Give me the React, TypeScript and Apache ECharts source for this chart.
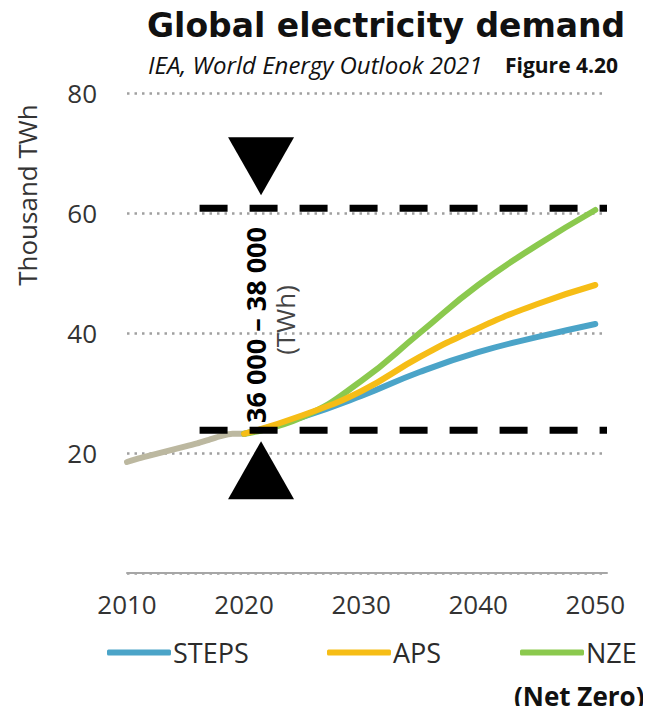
import React, { useEffect, useRef } from "react";
import * as echarts from "echarts";

// Historical electricity demand (thousand TWh)
const historyYears = [2010, 2011, 2012, 2013, 2014, 2015, 2016, 2017, 2018, 2019, 2020];
const historyValues = [18.5, 19.1, 19.6, 20.1, 20.6, 21.1, 21.6, 22.2, 22.8, 23.2, 23.2];

// Scenario projections (thousand TWh)
const scenarioYears = [2020, 2025, 2030, 2035, 2040, 2045, 2050];
const stepsValues = [23.2, 26.0, 29.5, 33.5, 36.8, 39.3, 41.5];
const apsValues = [23.2, 26.3, 30.3, 36.0, 40.8, 44.8, 48.0];
const nzeValues = [23.2, 26.0, 32.0, 40.0, 48.0, 54.6, 60.5];

// Axis ticks
const xTickYears = [2010, 2020, 2030, 2040, 2050];
const yTickValues = [20, 40, 60, 80];

// Range band between today's demand and the NZE 2050 level
const bandLow = 23.8;
const bandHigh = 60.8;
const bandYears = [2016.2, 2051];
const arrowYear = 2021.45;

const rangeLabel = "36 000 – 38 000";
const rangeUnit = "(TWh)";

const COLORS = {
  history: "#bcb8a0",
  steps: "#4ba4c8",
  aps: "#f6bd16",
  nze: "#8bc94e",
};

const FONT = "'Open Sans', 'DejaVu Sans', sans-serif";

export default function App() {
  const ref = useRef<HTMLDivElement>(null);

  useEffect(() => {
    if (!ref.current) return;
    const chart = echarts.init(ref.current, undefined, { renderer: "svg" });

    const toPairs = (xs: number[], ys: number[]) => xs.map((x, i) => [x, ys[i]]);
    const lineSeries = (name: string, data: number[][], color: string) => ({
      name,
      type: "line",
      data,
      smooth: 0.5,
      showSymbol: false,
      symbol: "none",
      lineStyle: { color, width: 6, cap: "round", join: "round" },
      itemStyle: { color },
      z: 3,
    });
    const dashedBand = (value: number) => ({
      type: "line",
      data: bandYears.map((y) => [y, value]),
      showSymbol: false,
      symbol: "none",
      silent: true,
      lineStyle: { color: "#000", width: 7, type: [28, 22], cap: "butt" },
      z: 5,
    });
    const legendAt = (name: string, left: number) => ({
      data: [name],
      left,
      top: 639,
      icon: "roundRect",
      itemWidth: 64,
      itemHeight: 6,
      padding: 0,
      selectedMode: false,
      textStyle: { fontFamily: FONT, fontSize: 27, color: "#2b2b2b", padding: [0, 0, 0, -3] },
    });
    const arrow = (value: number, offsetY: number, rotate: number) => ({
      type: "scatter",
      data: [[arrowYear, value]],
      symbol: "triangle",
      symbolSize: [66, 58],
      symbolRotate: rotate,
      symbolOffset: [0, offsetY],
      itemStyle: { color: "#000", opacity: 1 },
      silent: true,
      z: 6,
    });
    const rotatedText = (text: string, x: number, y: number, extra: object) => ({
      type: "text",
      x,
      y,
      rotation: Math.PI / 2,
      z: 10,
      style: { text, fontFamily: FONT, align: "center", verticalAlign: "middle", ...extra },
    });

    chart.setOption({
      animation: false,
      backgroundColor: "#fff",
      title: [
        {
          text: "Global electricity demand",
          left: 142,
          top: 4,
          textStyle: {
            fontFamily: "'DejaVu Sans', sans-serif",
            fontWeight: "bold",
            fontSize: 33,
            color: "#111",
          },
        },
      ],
      graphic: [
        {
          type: "text",
          x: 148,
          y: 64,
          style: {
            text: "IEA, World Energy Outlook 2021",
            fontFamily: FONT,
            fontStyle: "italic",
            fontSize: 24,
            fill: "#111",
            verticalAlign: "middle",
          },
        },
        {
          type: "text",
          x: 505,
          y: 65,
          style: {
            text: "Figure 4.20",
            fontFamily: FONT,
            fontWeight: "bold",
            fontSize: 21,
            fill: "#111",
            verticalAlign: "middle",
          },
        },
        rotatedText("Thousand TWh", 27, 195, { fontSize: 26, fill: "#333" }),
        rotatedText(rangeLabel, 255, 325, { fontSize: 27, fontWeight: "bold", fill: "#000" }),
        rotatedText(rangeUnit, 285, 320, { fontSize: 26, fill: "#444" }),
        {
          type: "text",
          x: 514,
          y: 696,
          style: {
            text: "(Net Zero)",
            fontFamily: FONT,
            fontWeight: "bold",
            fontSize: 26,
            fill: "#111",
            verticalAlign: "middle",
          },
        },
      ],
      legend: [
        legendAt("STEPS", 107),
        legendAt("APS", 327),
        legendAt("NZE", 520),
      ],
      grid: { left: 127, right: 44, top: 93, bottom: 141, containLabel: false },
      xAxis: {
        type: "value",
        min: 2010,
        max: 2051,
        interval: 10,
        axisLine: { show: true, lineStyle: { color: "#a6a6a6", width: 2 } },
        axisTick: { show: false },
        splitLine: { show: false },
        axisLabel: {
          margin: 18,
          fontFamily: FONT,
          fontSize: 26,
          color: "#333",
          showMaxLabel: false,
          formatter: (v: number) => (xTickYears.includes(v) ? String(v) : ""),
        },
      },
      yAxis: {
        type: "value",
        min: 0,
        max: 80,
        interval: 20,
        axisLine: { show: false },
        axisTick: { show: false },
        axisLabel: {
          margin: 30,
          fontFamily: FONT,
          fontSize: 26,
          color: "#333",
          formatter: (v: number) => (yTickValues.includes(v) ? String(v) : ""),
        },
        splitLine: {
          show: true,
          lineStyle: { color: "#a0a0a0", width: 2.5, type: [2.5, 5] },
        },
      },
      series: [
        {
          type: "line",
          data: toPairs(historyYears, historyValues),
          smooth: 0.2,
          showSymbol: false,
          symbol: "none",
          lineStyle: { color: COLORS.history, width: 6, cap: "round" },
          z: 2,
        },
        lineSeries("STEPS", toPairs(scenarioYears, stepsValues), COLORS.steps),
        lineSeries("NZE", toPairs(scenarioYears, nzeValues), COLORS.nze),
        lineSeries("APS", toPairs(scenarioYears, apsValues), COLORS.aps),
        dashedBand(bandHigh),
        dashedBand(bandLow),
        arrow(bandHigh, -42, 180),
        arrow(bandLow, 40, 0),
      ],
    });

    return () => chart.dispose();
  }, []);

  return <div ref={ref} style={{ width: 651, height: 714, margin: -8 }} />;
}
